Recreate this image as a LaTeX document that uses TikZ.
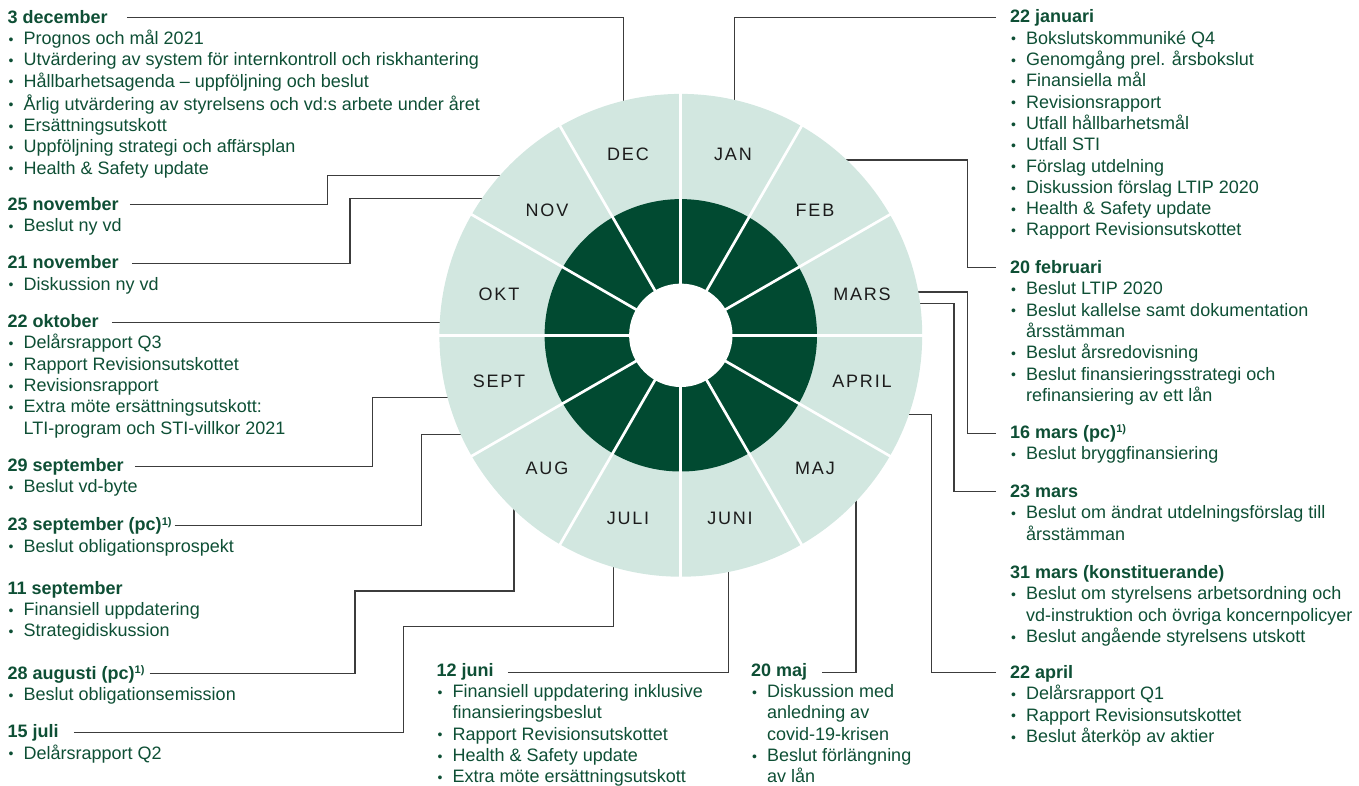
\documentclass[tikz,border=0pt]{standalone}
\usepackage{fontspec}
\setmainfont{Liberation Sans}
\newfontfamily\monthfont{Liberation Sans}[LetterSpace=10]
\definecolor{mint}{HTML}{D2E7E0}
\definecolor{forest}{HTML}{014A31}
\definecolor{txtgreen}{HTML}{0E4F35}
\definecolor{linegray}{HTML}{3C3C3C}
\definecolor{monthink}{HTML}{1C1C1C}
\newcommand\txt{\fontsize{18}{21.3}\selectfont}
\newcommand\bul{\makebox[15pt][l]{\raisebox{0.3pt}{\fontsize{14}{14}\selectfont •}}}
\newcommand\itm[1]{\strut\bul#1}
\newcommand\cnt[1]{\strut\hspace*{15pt}#1}
\newcommand\fnote{\raisebox{5.5pt}{\fontsize{11}{11}\selectfont 1)}}
\tikzset{title/.style={anchor=base west, inner sep=0pt, font=\txt\bfseries, text=txtgreen},
  body/.style={anchor=north west, inner sep=0pt, align=left, font=\txt, text=txtgreen},
  month/.style={inner sep=0pt, font=\monthfont\fontsize{18}{18}\selectfont, text=monthink},
  conn/.style={draw=linegray, line width=1.2pt}}

\begin{document}
\begin{tikzpicture}[x=1pt,y=-1pt]
  \useasboundingbox (0,0) rectangle (1359,785);
  % left column
  \node[title] (t3dec) at (7.5,23) {3 december};
  \node[body] (b3dec) at ([xshift=1pt,yshift=-6.4pt]t3dec.base west)
    {\itm{Prognos och mål 2021}\\\itm{Utvärdering av system för internkontroll och riskhantering}\\
     \itm{Hållbarhetsagenda – uppföljning och beslut}\\\itm{Årlig utvärdering av styrelsens och vd:s arbete under året}\\
     \itm{Ersättningsutskott}\\\itm{Uppföljning strategi och affärsplan}\\\itm{Health \& Safety update}};
  \node[title] (t25nov) at (7.5,210) {25 november};
  \node[body] (b25nov) at ([xshift=1pt,yshift=-6.4pt]t25nov.base west) {\itm{Beslut ny vd}};
  \node[title] (t21nov) at (7.5,268.5) {21 november};
  \node[body] (b21nov) at ([xshift=1pt,yshift=-6.4pt]t21nov.base west) {\itm{Diskussion ny vd}};
  \node[title] (t22okt) at (7.5,327.3) {22 oktober};
  \node[body] (b22okt) at ([xshift=1pt,yshift=-6.4pt]t22okt.base west)
    {\itm{Delårsrapport Q3}\\\itm{Rapport Revisionsutskottet}\\\itm{Revisionsrapport}\\
     \itm{Extra möte ersättningsutskott:}\\\cnt{LTI-program och STI-villkor 2021}};
  \node[title] (t29sep) at (7.5,471) {29 september};
  \node[body] (b29sep) at ([xshift=1pt,yshift=-6.4pt]t29sep.base west) {\itm{Beslut vd-byte}};
  \node[title] (t23sep) at (7.5,530.7) {23 september (pc)\fnote};
  \node[body] (b23sep) at ([xshift=1pt,yshift=-6.4pt]t23sep.base west) {\itm{Beslut obligationsprospekt}};
  \node[title] (t11sep) at (7.5,594) {11 september};
  \node[body] (b11sep) at ([xshift=1pt,yshift=-6.4pt]t11sep.base west)
    {\itm{Finansiell uppdatering}\\\itm{Strategidiskussion}};
  \node[title] (t28aug) at (7.5,679) {28 augusti (pc)\fnote};
  \node[body] (b28aug) at ([xshift=1pt,yshift=-6.4pt]t28aug.base west) {\itm{Beslut obligationsemission}};
  \node[title] (t15jul) at (7.5,737.7) {15 juli};
  \node[body] (b15jul) at ([xshift=1pt,yshift=-6.4pt]t15jul.base west) {\itm{Delårsrapport Q2}};
  % bottom
  \node[title] (t12jun) at (436.5,676) {12 juni};
  \node[body] (b12jun) at ([xshift=1pt,yshift=-6.4pt]t12jun.base west)
    {\itm{Finansiell uppdatering inklusive}\\\cnt{finansieringsbeslut}\\\itm{Rapport Revisionsutskottet}\\
     \itm{Health \& Safety update}\\\itm{Extra möte ersättningsutskott}};
  \node[title] (t20maj) at (751,676) {20 maj};
  \node[body] (b20maj) at ([xshift=1pt,yshift=-6.4pt]t20maj.base west)
    {\itm{Diskussion med}\\\cnt{anledning av}\\\cnt{covid-19-krisen}\\\itm{Beslut förlängning}\\\cnt{av lån}};
  % right column
  \node[title] (t22jan) at (1010,22.7) {22 januari};
  \node[body] (b22jan) at ([xshift=1pt,yshift=-6.4pt]t22jan.base west)
    {\itm{Bokslutskommuniké Q4}\\\itm{Genomgång prel. årsbokslut}\\\itm{Finansiella mål}\\
     \itm{Revisionsrapport}\\\itm{Utfall hållbarhetsmål}\\\itm{Utfall STI}\\\itm{Förslag utdelning}\\
     \itm{Diskussion förslag LTIP 2020}\\\itm{Health \& Safety update}\\\itm{Rapport Revisionsutskottet}};
  \node[title] (t20feb) at (1010,273.3) {20 februari};
  \node[body] (b20feb) at ([xshift=1pt,yshift=-6.4pt]t20feb.base west)
    {\itm{Beslut LTIP 2020}\\\itm{Beslut kallelse samt dokumentation}\\\cnt{årsstämman}\\
     \itm{Beslut årsredovisning}\\\itm{Beslut finansieringsstrategi och}\\\cnt{refinansiering av ett lån}};
  \node[title] (t16mar) at (1010,438.3) {16 mars (pc)\fnote};
  \node[body] (b16mar) at ([xshift=1pt,yshift=-6.4pt]t16mar.base west) {\itm{Beslut bryggfinansiering}};
  \node[title] (t23mar) at (1010,497.3) {23 mars};
  \node[body] (b23mar) at ([xshift=1pt,yshift=-6.4pt]t23mar.base west)
    {\itm{Beslut om ändrat utdelningsförslag till}\\\cnt{årsstämman}};
  \node[title] (t31mar) at (1010,578.3) {31 mars (konstituerande)};
  \node[body] (b31mar) at ([xshift=1pt,yshift=-6.4pt]t31mar.base west)
    {\itm{Beslut om styrelsens arbetsordning och}\\\cnt{vd-instruktion och övriga koncernpolicyer}\\
     \itm{Beslut angående styrelsens utskott}};
  \node[title] (t22apr) at (1010,678.3) {22 april};
  \node[body] (b22apr) at ([xshift=1pt,yshift=-6.4pt]t22apr.base west)
    {\itm{Delårsrapport Q1}\\\itm{Rapport Revisionsutskottet}\\\itm{Beslut återköp av aktier}};
  % ends on the wheel rim
  \coordinate (C) at (680.8,335.3);
  \coordinate (eDec) at (623.7,104);
  \coordinate (eJan) at (734.3,103);
  \coordinate (eNovA) at (503,175.7);
  \coordinate (eNovB) at (485,198.5);
  \coordinate (eOkt) at (443,323.3);
  \coordinate (eSepA) at (451,397.3);
  \coordinate (eSepB) at (464,434.3);
  \coordinate (eAug) at (514,506);
  \coordinate (eJul) at (613.3,564);
  \coordinate (eJun) at (728.3,569);
  \coordinate (eMaj) at (856,498);
  \coordinate (eApr) at (905.5,414.3);
  \coordinate (eMarB) at (917,303.7);
  \coordinate (eMarA) at (915,292);
  \coordinate (eFeb) at (843.5,160);
  \draw[conn] ([xshift=19pt,yshift=5.5pt]t3dec.base east) -| (eDec);
  \draw[conn] ([xshift=11pt,yshift=5.5pt]t25nov.base east) -| (327.5,175.7) -- (eNovA);
  \draw[conn] ([xshift=13pt,yshift=5pt]t21nov.base east) -| (350,198.5) -- (eNovB);
  \draw[conn] ([xshift=13pt,yshift=4.5pt]t22okt.base east) coordinate (s22okt) -- (s22okt -| eOkt);
  \draw[conn] ([xshift=11pt,yshift=4.5pt]t29sep.base east) -| (372.3,397.3) -- (eSepA);
  \draw[conn] ([xshift=3pt,yshift=5pt]t23sep.base east) -| (421.7,434.3) -- (eSepB);
  \draw[conn] ([xshift=5pt,yshift=5.5pt]t28aug.base east) -| (355,591) -| (eAug);
  \draw[conn] ([xshift=15pt,yshift=5.5pt]t15jul.base east) -| (403.3,626.7) -| (eJul);
  \draw[conn] ([xshift=14pt,yshift=3.5pt]t12jun.base east) -| (eJun);
  \draw[conn] ([xshift=15pt,yshift=3.5pt]t20maj.base east) -| (eMaj);
  \draw[conn] ([xshift=-14pt,yshift=5.5pt]t22jan.base west) -| (eJan);
  \draw[conn] ([xshift=-14pt,yshift=6pt]t20feb.base west) -| (967.3,160) -- (eFeb);
  \draw[conn] ([xshift=-14pt,yshift=5pt]t16mar.base west) -| (967.7,292) -- (eMarA);
  \draw[conn] ([xshift=-14pt,yshift=5.5pt]t23mar.base west) -| (954,303.7) -- (eMarB);
  \draw[conn] ([xshift=-14pt,yshift=5.5pt]t22apr.base west) -| (931.7,414.3) -- (eApr);
  % wheel
  \fill[mint] (C) circle[radius=241.4pt];
  \fill[forest] (C) circle[radius=136.2pt];
  \fill[white] (C) circle[radius=51.7pt];
  \foreach \a in {0,30,...,330}
    \draw[white, line width=2.7pt] (C) -- ++(\a:243);
  \foreach \m/\x/\y in {DEC/628/154, JAN/733/154, FEB/815/210, MARS/862/294, APRIL/862/381, MAJ/815/468,
      JUNI/730/518, JULI/628/518, AUG/547/468, SEPT/499/381, OKT/499/294, NOV/547/210}
    \node[month] (m\m) at (\x,\y) {\m};
\end{tikzpicture}
\end{document}
